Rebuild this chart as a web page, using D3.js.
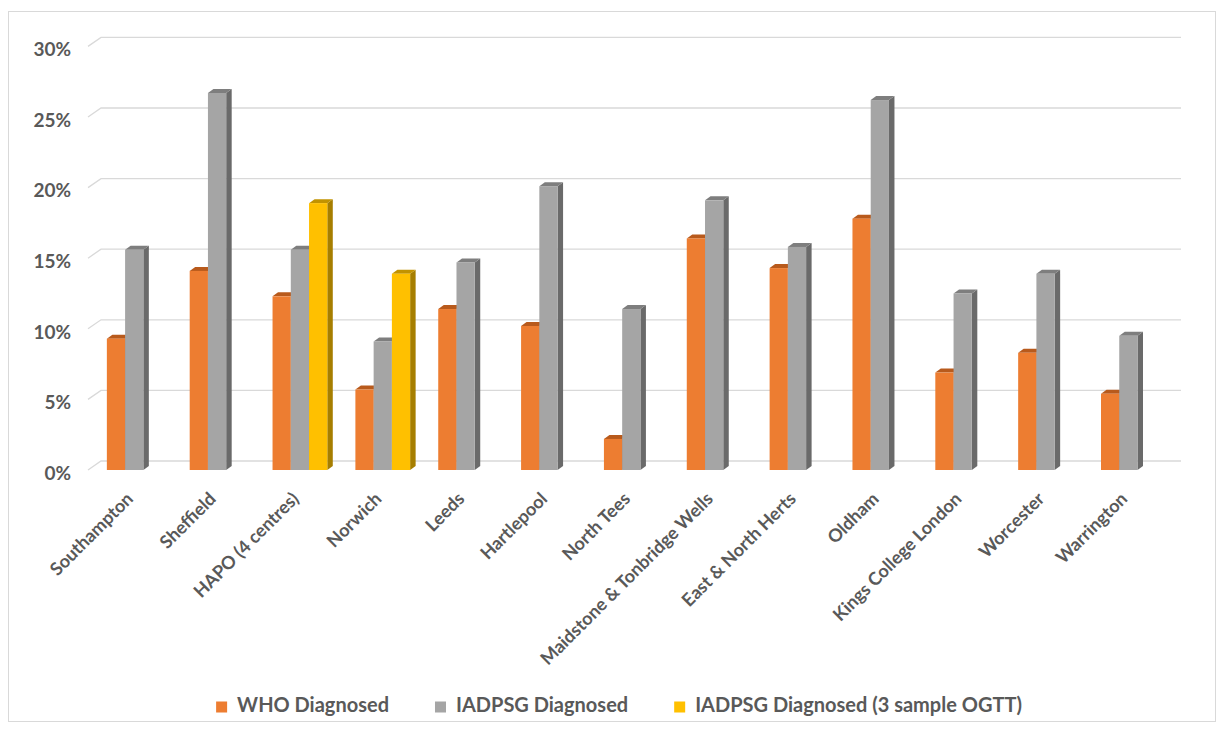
<!DOCTYPE html>
<html>
<head>
<meta charset="utf-8">
<script src="https://cdn.jsdelivr.net/npm/d3@7"></script>
<style>
  body { margin: 0; background: #fff; }
  text { font-family: Lato, "Open Sans", sans-serif; font-weight: 700; fill: #595959; }
</style>
</head>
<body>
<svg id="chart" width="1224" height="729"></svg>
<script>
// Screening centres
const categories = [
  "Southampton", "Sheffield", "HAPO (4 centres)", "Norwich", "Leeds", "Hartlepool",
  "North Tees", "Maidstone & Tonbridge Wells", "East & North Herts", "Oldham",
  "Kings College London", "Worcester", "Warrington"
];
const seriesNames = ["WHO Diagnosed", "IADPSG Diagnosed", "IADPSG Diagnosed (3 sample OGTT)"];
// Percent of women diagnosed with gestational diabetes
const whoDiagnosed    = [9.3, 14.1, 12.3, 5.7, 11.4, 10.2, 2.2, 16.4, 14.3, 17.8, 6.9, 8.3, 5.4];
const iadpsgDiagnosed = [15.6, 26.7, 15.6, 9.1, 14.7, 20.1, 11.4, 19.1, 15.8, 26.2, 12.5, 13.9, 9.5];
const iadpsg3Sample   = [null, null, 18.9, 13.9, null, null, null, null, null, null, null, null, null];
const yTicks = [0, 5, 10, 15, 20, 25, 30];

const seriesValues = [whoDiagnosed, iadpsgDiagnosed, iadpsg3Sample];
const colors = {
  front: ["#ED7D31", "#A5A5A5", "#FFC000"],
  top:   ["#B85A1C", "#7E7E7E", "#C29300"],
  side:  ["#A94E14", "#6A6A6A", "#A67E00"]
};

const svg = d3.select("#chart");

// chart frame
svg.append("rect")
  .attr("x", 8.5).attr("y", 11.5).attr("width", 1207).attr("height", 710)
  .attr("fill", "#fff").attr("stroke", "#D9D9D9").attr("stroke-width", 1);

const x = d3.scaleBand().domain(categories).range([92.8, 1169.8]);
const xs = d3.scaleBand().domain(seriesNames).range([0, x.bandwidth()]).paddingOuter(0.77);
const y = d3.scaleLinear().domain([0, 30]).range([470, 46.4]);

// depth of the 3D walls and of each column
const wallDx = 13, wallDy = -9;
const barDx = 5.5, barDy = -4;
const wallLeft = 88, wallRight = 1181;

// gridlines on the side and back walls
const grid = svg.append("g").attr("stroke", "#D9D9D9").attr("stroke-width", 1.3).attr("fill", "none");
yTicks.forEach(t => {
  const yf = y(t);
  grid.append("path")
    .attr("d", `M${wallLeft},${yf}L${wallLeft + wallDx},${yf + wallDy}L${wallRight},${yf + wallDy}`);
});

// y axis labels
svg.append("g").selectAll("text").data(yTicks).join("text")
  .attr("x", 71).attr("y", d => y(d) + 5)
  .attr("text-anchor", "end").attr("dominant-baseline", "middle")
  .style("font-size", "19px")
  .text(d => d + "%");

// columns
const bars = svg.append("g");
categories.forEach((c, ci) => {
  seriesNames.forEach((s, si) => {
    const v = seriesValues[si][ci];
    if (v == null) return;
    const x0 = x(c) + xs(s), w = xs.bandwidth();
    const yt = y(v), yb = y(0);
    const g = bars.append("g");
    g.append("path").attr("fill", colors.side[si])
      .attr("d", `M${x0 + w},${yt}L${x0 + w + barDx},${yt + barDy}L${x0 + w + barDx},${yb + barDy}L${x0 + w},${yb}Z`);
    g.append("path").attr("fill", colors.top[si])
      .attr("d", `M${x0},${yt}L${x0 + barDx},${yt + barDy}L${x0 + w + barDx},${yt + barDy}L${x0 + w},${yt}Z`);
    g.append("rect").attr("fill", colors.front[si])
      .attr("x", x0).attr("y", yt).attr("width", w).attr("height", yb - yt);
  });
});

// category labels
svg.append("g").selectAll("text").data(categories).join("text")
  .attr("transform", d => `translate(${x(d) + x.bandwidth() / 2},500) rotate(-45)`)
  .attr("text-anchor", "end")
  .style("font-size", "18px")
  .text(d => d);

// legend
const legend = svg.append("g");
const legendY = 707;
const legendSwatch = 11, swatchGap = 10, itemGap = 46;
const items = legend.selectAll("g").data(seriesNames).join("g");
items.append("rect").attr("width", legendSwatch).attr("height", legendSwatch)
  .attr("y", legendY - legendSwatch / 2)
  .attr("fill", (d, i) => colors.front[i]);
items.append("text").attr("x", legendSwatch + swatchGap).attr("y", legendY)
  .attr("dominant-baseline", "middle")
  .style("font-size", "20px")
  .text(d => d);
let widths = [];
items.each(function() { widths.push(this.getBBox().width); });
const total = d3.sum(widths) + itemGap * (widths.length - 1);
let cx = 619 - total / 2;
items.attr("transform", (d, i) => {
  const tx = cx; cx += widths[i] + itemGap; return `translate(${tx},0)`;
});
</script>
</body>
</html>
